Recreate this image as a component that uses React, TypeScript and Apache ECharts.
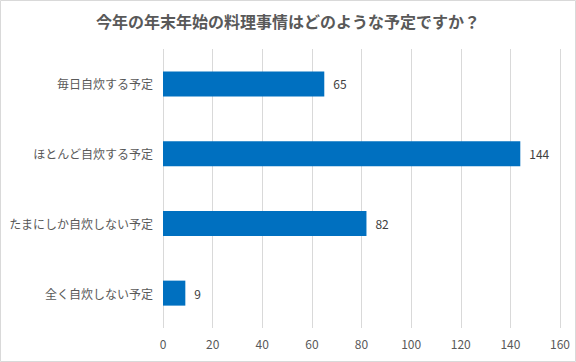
import React, { useEffect, useRef } from "react";
import * as echarts from "echarts";

const categories = ["毎日自炊する予定", "ほとんど自炊する予定", "たまにしか自炊しない予定", "全く自炊しない予定"];
const values = [65, 144, 82, 9];
const titleText = "今年の年末年始の料理事情はどのような予定ですか？";

export default function App() {
  const ref = useRef<HTMLDivElement>(null);
  useEffect(() => {
    document.body.style.margin = "0";
    const chart = echarts.init(ref.current!, null, { renderer: "svg" });
    const font = "'Noto Sans CJK JP', 'Noto Sans', sans-serif";
    chart.setOption({
      animation: false,
      backgroundColor: "#ffffff",
      textStyle: { fontFamily: font },
      title: {
        text: titleText,
        left: "center",
        top: 8,
        textStyle: { fontSize: 16, fontWeight: "bold", color: "#595959", fontFamily: font },
      },
      graphic: [
        {
          type: "rect",
          shape: { x: 0.5, y: 0.5, width: 575, height: 361 },
          style: { fill: "none", stroke: "#d9d9d9", lineWidth: 1 },
          silent: true,
        },
      ],
      grid: { left: 163, right: 16, top: 49, bottom: 34, containLabel: false },
      xAxis: {
        type: "value",
        min: 0,
        max: 160,
        interval: 20,
        axisLine: { show: false },
        axisTick: { show: false },
        axisLabel: { color: "#595959", fontSize: 12, margin: 9, fontFamily: font },
        splitLine: { show: true, lineStyle: { color: "#d9d9d9", width: 1 } },
      },
      yAxis: {
        type: "category",
        data: categories,
        inverse: true,
        axisLine: { show: false },
        axisTick: { show: false },
        axisLabel: { color: "#595959", fontSize: 12, margin: 10, fontFamily: font },
      },
      series: [
        {
          type: "bar",
          data: values,
          barWidth: 25,
          itemStyle: { color: "#0070C0" },
          label: {
            show: true,
            position: "right",
            distance: 9,
            color: "#404040",
            fontSize: 12,
            fontFamily: font,
          },
        },
      ],
    });
    return () => chart.dispose();
  }, []);
  return <div ref={ref} style={{ width: 576, height: 362 }} />;
}
